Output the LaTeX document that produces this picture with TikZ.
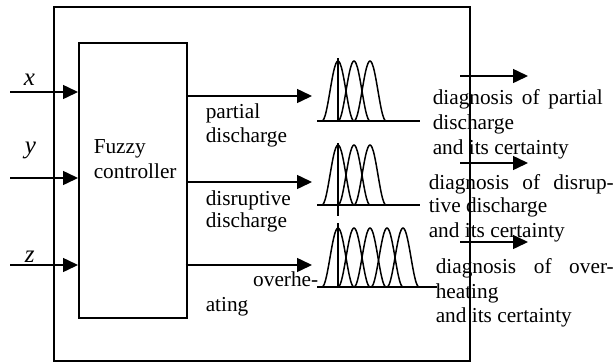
\documentclass[tikz,border=0pt]{standalone}
\usepackage{fontspec}
\setmainfont{Liberation Serif}
\usetikzlibrary{arrows.meta}
\begin{document}
\begin{tikzpicture}[x=1pt,y=-1pt,
  line width=1.5pt,
  txt/.style={anchor=base west,inner sep=0pt,font=\fontsize{21.3}{24.5}\selectfont},
  txte/.style={anchor=base east,inner sep=0pt,font=\fontsize{21.3}{24.5}\selectfont},
  var/.style={anchor=base west,inner sep=0pt,font=\fontsize{25}{28}\selectfont\itshape},
  arr/.style={-{Triangle[length=15pt,width=14pt]}},
  boxx/.style={draw,inner sep=0pt,anchor=north west},
  bell/.style={line width=1.5pt}]
\useasboundingbox (0,0) rectangle (615,362);
% boxes
\node[boxx,minimum width=416pt,minimum height=354pt] (outer) at (53,6) {};
\node[boxx,minimum width=108pt,minimum height=275pt] (fc) at (78,42) {};
\node[txt] (fz1) at (93,153) {Fuzzy};
\node[txt] (fz2) at (93,178) {controller};
% inputs
\coordinate (inx) at (10,92);
\coordinate (iny) at (10,178);
\coordinate (inz) at (10,265);
\draw[arr] (inx) -- (inx -| fc.west);
\draw[arr] (iny) -- (iny -| fc.west);
\draw[arr] (inz) -- (inz -| fc.west);
\node[var] (lx) at (23,85) {x};
\node[var] (ly) at (24,153) {y};
\node[var] (lz) at (24,262) {z};
% outputs of controller
\coordinate (o1) at (312,96);
\coordinate (o2) at (312,182);
\coordinate (o3) at (312,265);
\draw[arr] (o1 -| fc.east) -- (o1);
\draw[arr] (o2 -| fc.east) -- (o2);
\draw[arr] ([xshift=-2pt]o3 -| fc.east) -- (o3);
\node[txt] (t1a) at (205,118) {partial};
\node[txt] (t1b) at (205,142) {discharge};
\node[txt] (t2a) at (205,205) {disruptive};
\node[txt] (t2b) at (205,227) {discharge};
\node[txte] (t3a) at (319,286) {overhe-};
\node[txt] (t3b) at (205,311) {ating};
% membership functions
\foreach \b in {121,205} {
  \draw (317,\b) -- (420,\b);
  \foreach \c in {338,354,370}
    \draw[bell] plot[domain=-1:1,samples=31,smooth] ({\c+16*\x},{\b-60*(1+cos(180*\x))/2});
}
\draw (338,58) -- (338,121);
\draw (338,143) -- (338,216);
\draw (317,287) -- (437,287);
\foreach \c in {338,354,370,387}
  \draw[bell] plot[domain=-1:1,samples=31,smooth] ({\c+16*\x},{287-59*(1+cos(180*\x))/2});
\draw[bell] plot[domain=-1:1,samples=31,smooth] ({403+16*\x},{287-59*(1+cos(180*\x))/2}) -- (421,287);
\draw (338,223) -- (338,287);
% right arrows
\coordinate (r1s) at (460,76);  \coordinate (r1e) at (528,76);
\coordinate (r2s) at (460,163); \coordinate (r2e) at (528,163);
\coordinate (r3s) at (460,242); \coordinate (r3e) at (528,242);
\draw[arr] (r1s) -- (r1e);
\draw[arr] (r2s) -- (r2e);
\draw[arr] (r3s) -- (r3e);
% right texts
\node[txt] (d1a) at (432,104) {\makebox[170pt][s]{diagnosis of partial}};
\node[txt] (d1b) at (432,129) {discharge};
\node[txt] (d1c) at (432,154) {and its certainty};
\node[txt] (d2a) at (428,189) {\makebox[185pt][s]{diagnosis of disrup-}};
\node[txt] (d2b) at (428,212) {tive discharge};
\node[txt] (d2c) at (428,237) {and its certainty};
\node[txt] (d3a) at (435,273) {\makebox[178pt][s]{diagnosis of over-}};
\node[txt] (d3b) at (435,298) {heating};
\node[txt] (d3c) at (435,322) {and its certainty};
\end{tikzpicture}
\end{document}
